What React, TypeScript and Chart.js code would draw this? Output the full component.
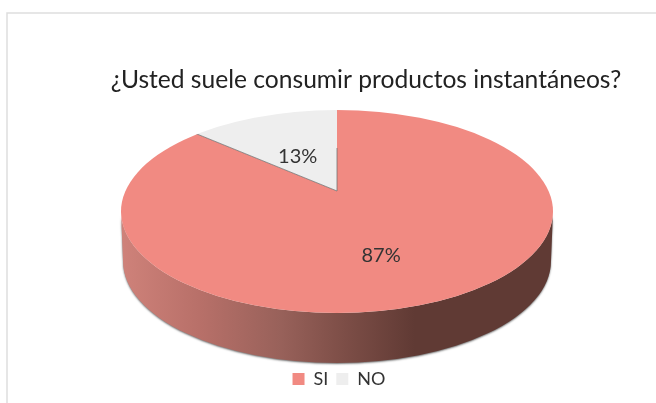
import React, { useEffect, useRef } from "react";
import { Chart, registerables } from "chart.js";

Chart.register(...registerables);

const categories = ["SI", "NO"];
const seriesValues = [87, 13];
const percentLabels = ["87%", "13%"];
const sliceColors = ["#F18A82", "#EEEEEE"];
const titleText = "¿Usted suele consumir productos instantáneos?";

const FONT = "Lato, 'Open Sans', sans-serif";
// Geometry of the tilted disc
const TOP = { cx: 337, cy: 211.5, rx: 216, ry: 101.5 };
const BOTTOM = { cx: 337, cy: 261, rx: 214, ry: 102 };
const APEX = { x: 337, y: 191, rx: 300, ry: 130 };
const LABEL_FRACTION = [
  [0.37, 0.54],
  [0.33, 0.29],
];

const sidePlugin = {
  id: "tilted",
  afterLayout(chart: any) {
    chart.titleBlock.left += 38;
    chart.titleBlock.right += 38;
    chart.legend.left += 11;
    chart.legend.right += 11;
  },
  beforeDraw(chart: any) {
    const c = chart.ctx;
    c.save();
    c.fillStyle = "#ffffff";
    c.fillRect(0, 0, chart.width, chart.height);
    c.strokeStyle = "#DEDEDE";
    c.lineWidth = 1.5;
    c.beginPath();
    c.moveTo(chart.width, 13);
    c.lineTo(7, 13);
    c.lineTo(7, chart.height);
    c.stroke();
    c.restore();
  },
  beforeDatasetsDraw(chart: any) {
    const c = chart.ctx;
    const el = chart.getDatasetMeta(0).data[0];
    c.save();
    // extruded edge of the disc
    const g = c.createLinearGradient(TOP.cx - TOP.rx, 0, TOP.cx + TOP.rx, 0);
    g.addColorStop(0, "#CF827A");
    g.addColorStop(0.18, "#B87069");
    g.addColorStop(0.37, "#98615A");
    g.addColorStop(0.5, "#805049");
    g.addColorStop(0.68, "#603A34");
    g.addColorStop(1, "#603A34");
    c.save();
    c.shadowColor = "rgba(0,0,0,0.55)";
    c.shadowBlur = 2;
    c.shadowOffsetY = 1;
    c.fillStyle = g;
    c.beginPath();
    c.ellipse(TOP.cx, TOP.cy, TOP.rx, TOP.ry, 0, 0, Math.PI);
    c.ellipse(BOTTOM.cx, BOTTOM.cy, BOTTOM.rx, BOTTOM.ry, 0, Math.PI, 0, true);
    c.closePath();
    c.fill();
    c.restore();
    // top face: chart arcs seen through a foreshortening about the apex
    c.beginPath();
    c.ellipse(TOP.cx, TOP.cy, TOP.rx, TOP.ry, 0, 0, Math.PI * 2);
    c.clip();
    c.translate(APEX.x, APEX.y);
    c.scale(APEX.rx / el.outerRadius, APEX.ry / el.outerRadius);
    c.translate(-el.x, -el.y);
  },
  afterDatasetsDraw(chart: any) {
    const c = chart.ctx;
    c.restore();
    const meta = chart.getDatasetMeta(0).data;
    // thin edge of the wedge
    const no = meta[1];
    c.save();
    c.beginPath();
    c.ellipse(TOP.cx, TOP.cy, TOP.rx, TOP.ry, 0, 0, Math.PI * 2);
    c.clip();
    c.strokeStyle = "rgba(110,110,110,0.75)";
    c.lineWidth = 1;
    c.beginPath();
    c.moveTo(APEX.x + Math.cos(no.startAngle) * APEX.rx, APEX.y + Math.sin(no.startAngle) * APEX.ry);
    c.lineTo(APEX.x, APEX.y);
    c.lineTo(APEX.x, 148);
    c.stroke();
    c.restore();
    // percentage labels
    c.save();
    c.font = `20px ${FONT}`;
    c.fillStyle = "#333333";
    c.textAlign = "center";
    c.textBaseline = "middle";
    meta.forEach((arc: any, i: number) => {
      const mid = (arc.startAngle + arc.endAngle) / 2;
      const x = APEX.x + Math.cos(mid) * APEX.rx * LABEL_FRACTION[i][0];
      const y = APEX.y + Math.sin(mid) * APEX.ry * LABEL_FRACTION[i][1];
      c.fillText(percentLabels[i], x, y);
    });
    c.restore();
  },
};

export default function App() {
  const ref = useRef<HTMLCanvasElement>(null);
  useEffect(() => {
    const chart = new Chart(ref.current!, {
      type: "pie",
      data: {
        labels: categories,
        datasets: [{ data: seriesValues, backgroundColor: sliceColors, borderWidth: 0 }],
      },
      options: {
        responsive: false,
        animation: false,
        layout: { padding: { top: 65, bottom: 5 } },
        plugins: {
          title: {
            display: true,
            text: titleText,
            color: "#222222",
            font: { family: FONT, size: 24.6, weight: "normal" },
            padding: 0,
          },
          legend: {
            position: "bottom",
            labels: {
              boxWidth: 12,
              boxHeight: 12,
              color: "#333333",
              font: { family: FONT, size: 18 },
              padding: 8,
            },
          },
          tooltip: { enabled: false },
        },
      },
      plugins: [sidePlugin],
    } as any);
    return () => chart.destroy();
  }, []);
  return (
    <div style={{ position: "fixed", left: 0, top: 0, width: 656, height: 403, background: "#fff" }}>
      <canvas ref={ref} width={656} height={403} style={{ display: "block", filter: "blur(0.4px)" }} />
    </div>
  );
}
